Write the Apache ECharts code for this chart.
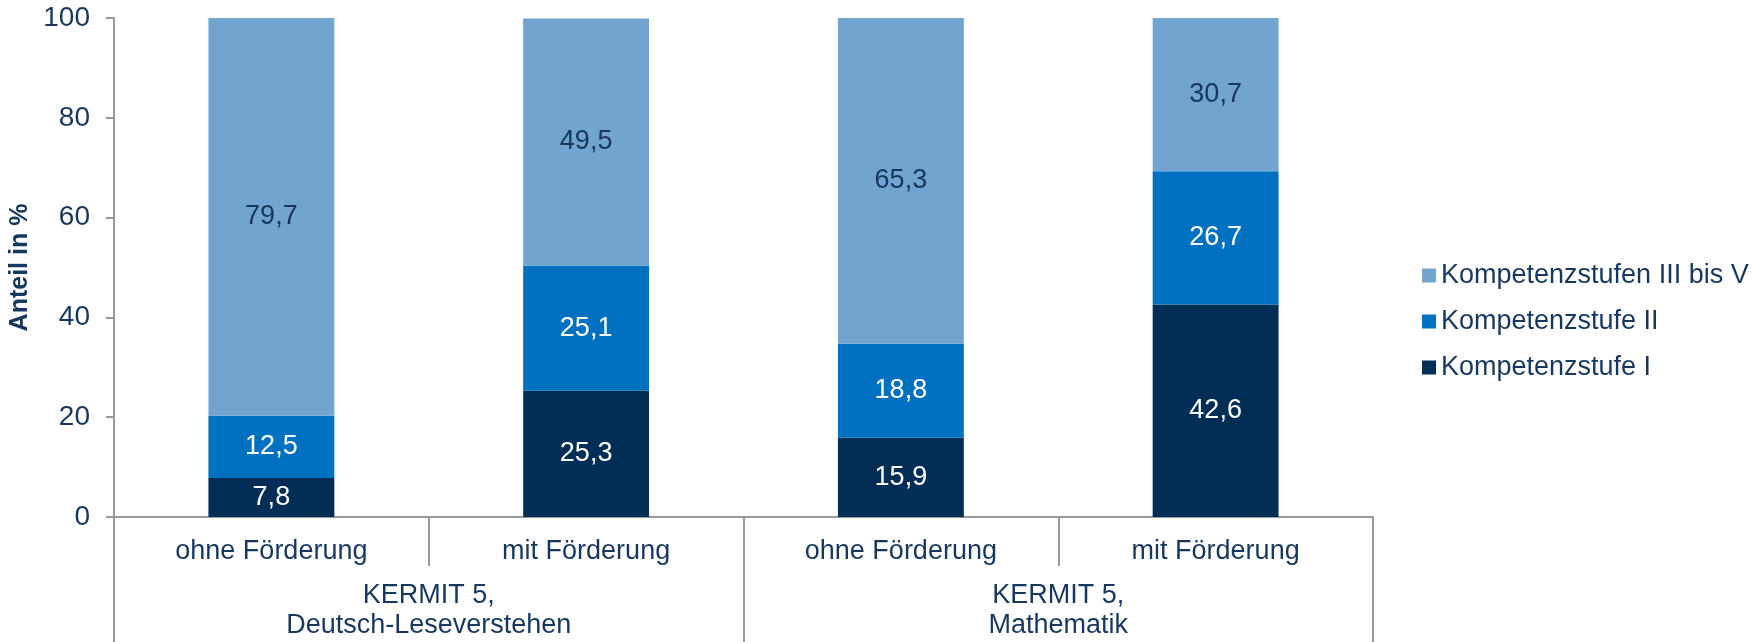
<!DOCTYPE html>
<html>
<head>
<meta charset="utf-8">
<script src="https://cdn.jsdelivr.net/npm/echarts@6/dist/echarts.min.js"></script>
<style>
  html, body { margin: 0; padding: 0; background: #fff; }
  #main { width: 1756px; height: 642px; }
</style>
</head>
<body>
<div id="main"></div>
<script>
// categories (lower tier) and groups (upper tier)
var categories = ['ohne Förderung', 'mit Förderung', 'ohne Förderung', 'mit Förderung'];
var groups = ['KERMIT 5,\nDeutsch-Leseverstehen', 'KERMIT 5,\nMathematik'];

// shares in percent, bottom to top
var stufeI = [7.8, 25.3, 15.9, 42.6];
var stufeII = [12.5, 25.1, 18.8, 26.7];
var stufeIIIbisV = [79.7, 49.5, 65.3, 30.7];

var yTicks = [0, 20, 40, 60, 80, 100];

var textColor = '#17375E';
var axisColor = '#999999';
var font = 'Liberation Sans, Arial, sans-serif';

var chart = echarts.init(document.getElementById('main'));

function fmt(p) {
  return String(p.value).replace('.', ',');
}

function seg(name, data, color, labelColor) {
  return {
    name: name,
    type: 'bar',
    stack: 'total',
    barWidth: '40%',
    xAxisIndex: 0,
    itemStyle: { color: color },
    label: {
      show: true,
      position: 'inside',
      formatter: fmt,
      color: labelColor,
      fontSize: 27,
      fontFamily: font
    },
    data: data
  };
}

var option = {
  animation: false,
  textStyle: { fontFamily: font },
  grid: { left: 114, right: 383, top: 18, bottom: 125, containLabel: false, outerBoundsMode: 'none' },
  legend: {
    orient: 'vertical',
    left: 1417,
    top: 257,
    itemWidth: 14,
    itemHeight: 14,
    itemGap: 19,
    icon: 'rect',
    textStyle: { color: textColor, fontSize: 27, lineHeight: 27, fontFamily: font },
    data: ['Kompetenzstufen III bis V', 'Kompetenzstufe II', 'Kompetenzstufe I']
  },
  xAxis: [
    {
      type: 'category',
      data: categories,
      position: 'bottom',
      axisLine: { show: true, lineStyle: { color: axisColor, width: 2 } },
      axisTick: { show: true, interval: 0, length: 49, lineStyle: { color: axisColor, width: 2 } },
      axisLabel: { color: textColor, fontSize: 27, margin: 21, interval: 0 }
    },
    {
      type: 'category',
      data: groups,
      position: 'bottom',
      offset: 49,
      axisLine: { show: false },
      axisTick: { show: true, interval: 0, length: 80, lineStyle: { color: axisColor, width: 2 } },
      axisLabel: { color: textColor, fontSize: 27, lineHeight: 30, margin: 15, interval: 0 }
    }
  ],
  yAxis: {
    type: 'value',
    min: yTicks[0],
    max: yTicks[yTicks.length - 1],
    interval: 20,
    name: 'Anteil in %',
    nameLocation: 'middle',
    nameRotate: 90,
    nameGap: 77,
    nameTextStyle: { color: textColor, fontSize: 25, fontWeight: 'bold' },
    axisLine: { show: true, lineStyle: { color: axisColor, width: 2 } },
    axisTick: { show: true, length: 8, lineStyle: { color: axisColor, width: 2 } },
    axisLabel: { color: textColor, fontSize: 28, margin: 24 },
    splitLine: { show: false }
  },
  series: [
    seg('Kompetenzstufe I', stufeI, '#022D55', '#ffffff'),
    seg('Kompetenzstufe II', stufeII, '#0070C0', '#ffffff'),
    seg('Kompetenzstufen III bis V', stufeIIIbisV, '#71A5D0', textColor)
  ]
};

chart.setOption(option);
</script>
</body>
</html>
